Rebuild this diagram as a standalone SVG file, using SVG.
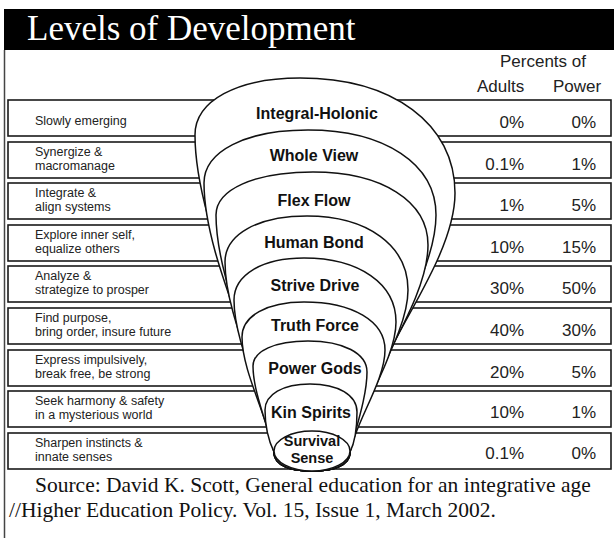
<svg xmlns="http://www.w3.org/2000/svg" width="614" height="538" viewBox="0 0 614 538">
<style>
.row{fill:#fff;stroke:#1a1a1a;stroke-width:1.6}
.lvl{fill:#fff;stroke:#111;stroke-width:1.5}
.desc{font-family:"Liberation Sans",Arial,sans-serif;font-size:12.5px;fill:#222}
.num{font-family:"Liberation Sans",Arial,sans-serif;font-size:17px;fill:#222;text-anchor:end}
.hdr{font-family:"Liberation Sans",Arial,sans-serif;font-size:17px;fill:#222}
.name{font-family:"Liberation Sans",Arial,sans-serif;font-size:16px;font-weight:bold;fill:#111;text-anchor:middle}
.small{font-size:14.5px}
.src{font-family:"Liberation Serif","Times New Roman",serif;font-size:21.5px;fill:#111}
</style>
<rect width="614" height="538" fill="#fff"/>
<g id="title">
<rect x="4" y="9" width="610" height="41" fill="#000"/>
<text x="27" y="40" font-family="Liberation Serif,'Times New Roman',serif" font-size="35" fill="#fff">Levels of Development</text>
</g>
<line x1="4.5" y1="50" x2="4.5" y2="538" stroke="#444" stroke-width="1.5"/>
<g id="header">
<text class="hdr" x="543" y="67" text-anchor="middle">Percents of</text>
<text class="hdr" x="477" y="92">Adults</text>
<text class="hdr" x="553" y="92">Power</text>
</g>
<g id="rows">
<g id="row-1"><rect class="row" x="8" y="100" width="603" height="36"/>
<text class="desc" x="35" y="125">Slowly emerging</text>
<text class="num" x="524" y="128">0%</text><text class="num" x="596" y="128">0%</text></g>
<g id="row-2"><rect class="row" x="8" y="142" width="603" height="36"/>
<text class="desc" x="35" y="155.5">Synergize &amp;</text><text class="desc" x="35" y="169.5">macromanage</text>
<text class="num" x="524" y="170">0.1%</text><text class="num" x="596" y="170">1%</text></g>
<g id="row-3"><rect class="row" x="8" y="183" width="603" height="36"/>
<text class="desc" x="35" y="196.5">Integrate &amp;</text><text class="desc" x="35" y="210.5">align systems</text>
<text class="num" x="524" y="211">1%</text><text class="num" x="596" y="211">5%</text></g>
<g id="row-4"><rect class="row" x="8" y="225" width="603" height="36"/>
<text class="desc" x="35" y="238.5">Explore inner self,</text><text class="desc" x="35" y="252.5">equalize others</text>
<text class="num" x="524" y="253">10%</text><text class="num" x="596" y="253">15%</text></g>
<g id="row-5"><rect class="row" x="8" y="266" width="603" height="36"/>
<text class="desc" x="35" y="279.5">Analyze &amp;</text><text class="desc" x="35" y="293.5">strategize to prosper</text>
<text class="num" x="524" y="294">30%</text><text class="num" x="596" y="294">50%</text></g>
<g id="row-6"><rect class="row" x="8" y="308" width="603" height="36"/>
<text class="desc" x="35" y="321.5">Find purpose,</text><text class="desc" x="35" y="335.5">bring order, insure future</text>
<text class="num" x="524" y="336">40%</text><text class="num" x="596" y="336">30%</text></g>
<g id="row-7"><rect class="row" x="8" y="350" width="603" height="36"/>
<text class="desc" x="35" y="363.5">Express impulsively,</text><text class="desc" x="35" y="377.5">break free, be strong</text>
<text class="num" x="524" y="378">20%</text><text class="num" x="596" y="378">5%</text></g>
<g id="row-8"><rect class="row" x="8" y="391" width="603" height="36"/>
<text class="desc" x="35" y="404.5">Seek harmony &amp; safety</text><text class="desc" x="35" y="418.5">in a mysterious world</text>
<text class="num" x="524" y="418">10%</text><text class="num" x="596" y="418">1%</text></g>
<g id="row-9"><rect class="row" x="8" y="433" width="603" height="36"/>
<text class="desc" x="35" y="446.5">Sharpen instincts &amp;</text><text class="desc" x="35" y="460.5">innate senses</text>
<text class="num" x="524" y="459">0.1%</text><text class="num" x="596" y="459">0%</text></g>
</g>
<g id="funnel">
<g id="level-integral-holonic">
<path class="lvl" d="M195,135 C195,100.8 237,78 300,78 C393,78 455,124 455,193 C455,270.7 356,374.3 350,452 C350,466 332,471 312,471 C292,471 274,466 274,452 C268,356.9 195,230.1 195,135 Z"/>
<text class="name" x="317" y="119">Integral-Holonic</text></g>
<g id="level-whole-view">
<path class="lvl" d="M204,183 C204,151.2 245.6,130 308,130 C384.8,130 436,164 436,215 C436,286.1 356,380.9 350,452 C350,466 332,471 312,471 C292,471 274,466 274,452 C268,371.3 204,263.7 204,183 Z"/>
<text class="name" x="314" y="161">Whole View</text></g>
<g id="level-flex-flow">
<path class="lvl" d="M216,215 C216,189.2 254.8,172 313,172 C382,172 428,201.2 428,245 C428,307.1 356,389.9 350,452 C350,466 332,471 312,471 C292,471 274,466 274,452 C268,380.9 216,286.1 216,215 Z"/>
<text class="name" x="314" y="206">Flex Flow</text></g>
<g id="level-human-bond">
<path class="lvl" d="M225,262 C225,234.4 257.8,216 307,216 C367.6,216 408,245.6 408,290 C408,338.6 356,403.4 350,452 C350,466 332,471 312,471 C292,471 274,466 274,452 C268,395 225,319 225,262 Z"/>
<text class="name" x="314" y="248">Human Bond</text></g>
<g id="level-strive-drive">
<path class="lvl" d="M234,300 C234,274.8 262,258 304,258 C359.2,258 396,283.6 396,322 C396,361 356,413 350,452 C350,466 332,471 312,471 C292,471 274,466 274,452 C268,406.4 234,345.6 234,300 Z"/>
<text class="name" x="315" y="291">Strive Drive</text></g>
<g id="level-truth-force">
<path class="lvl" d="M242,337 C242,316 266.8,302 304,302 C352.6,302 385,321.2 385,350 C385,380.6 356,421.4 350,452 C350,466 332,471 312,471 C292,471 274,466 274,452 C268,417.5 242,371.5 242,337 Z"/>
<text class="name" x="315" y="331">Truth Force</text></g>
<g id="level-power-gods">
<path class="lvl" d="M253,366 C253,351 275,341 308,341 C343.4,341 367,353.4 367,372 C367,396 356,428 350,452 C350,466 332,471 312,471 C292,471 274,466 274,452 C268,426.2 253,391.8 253,366 Z"/>
<text class="name" x="315" y="374">Power Gods</text></g>
<g id="level-kin-spirits">
<path class="lvl" d="M265,410 C265,394.4 283,384 310,384 C338.2,384 357,395.2 357,412 C357,424 356,440 350,452 C350,466 332,471 312,471 C292,471 274,466 274,452 C268,439.4 265,422.6 265,410 Z"/>
<text class="name" x="311" y="418">Kin Spirits</text></g>
<g id="level-survival-sense">
<ellipse class="lvl" cx="312" cy="451" rx="38" ry="20"/>
<text class="name small" x="312" y="446">Survival</text>
<text class="name small" x="312" y="463">Sense</text></g>
</g>
<g id="source">
<text class="src" x="35" y="492">Source: David K. Scott, General education for an integrative age</text>
<text class="src" x="9" y="517">//Higher Education Policy. Vol. 15, Issue 1, March 2002.</text>
</g>
</svg>
